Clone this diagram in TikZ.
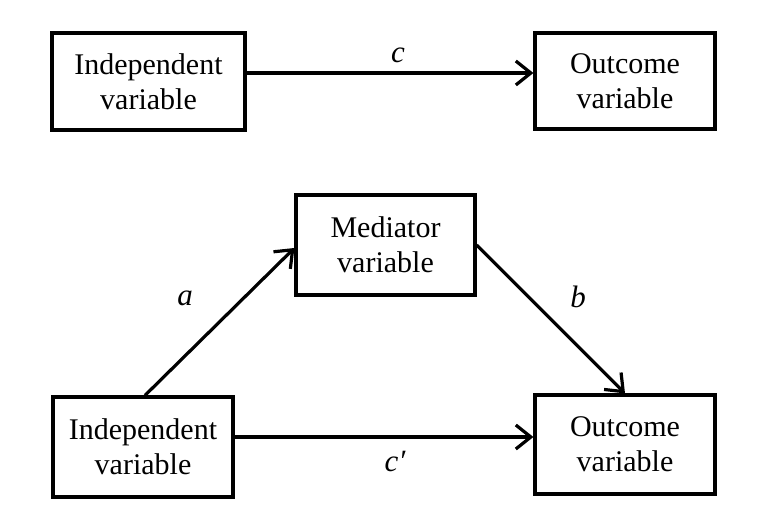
\documentclass[tikz,border=0pt]{standalone}
\usepackage{fontspec}
\setmainfont{Liberation Serif}
\usetikzlibrary{arrows.meta}
\begin{document}
\begin{tikzpicture}[x=1pt,y=-1pt,
  box/.style={draw, line width=3.2pt, align=center, inner sep=0pt,
    font=\fontsize{30}{35}\selectfont},
  arr/.style={line width=3.2pt, -{Straight Barb[length=15pt,width=24pt,line width=3.2pt]}},
  lbl/.style={font=\fontsize{31}{35}\selectfont\itshape}]
\useasboundingbox (0,0) rectangle (762,526);
\node[box, minimum width=193pt, minimum height=97pt] (ind1) at (148.5,81.5) {Independent\\variable};
\node[box, minimum width=180pt, minimum height=96pt] (out1) at (625,81) {Outcome\\variable};
\node[box, minimum width=179pt, minimum height=100pt] (med) at (385.5,245) {Mediator\\variable};
\node[box, minimum width=180pt, minimum height=100pt] (ind2) at (143,447) {Independent\\variable};
\node[box, minimum width=180pt, minimum height=99pt] (out2) at (625,444.5) {Outcome\\variable};
\draw[arr] ([yshift=8.5pt]ind1.east) -- ([yshift=8.5pt]ind1.east -| out1.west);
\draw[arr] ([xshift=2pt]ind2.north) -- ([yshift=-3pt]med.west);
\draw[arr] (med.east) -- (out2.north);
\draw[arr] ([yshift=10pt]ind2.east) -- ([yshift=10pt]ind2.east -| out2.west);
\node[lbl] (lc) at (398,55) {c};
\node[lbl] (la) at (185,298) {a};
\node[lbl] (lb) at (578,297) {b};
\node[lbl] (lcp) at (395,461) {c′};
\end{tikzpicture}
\end{document}
